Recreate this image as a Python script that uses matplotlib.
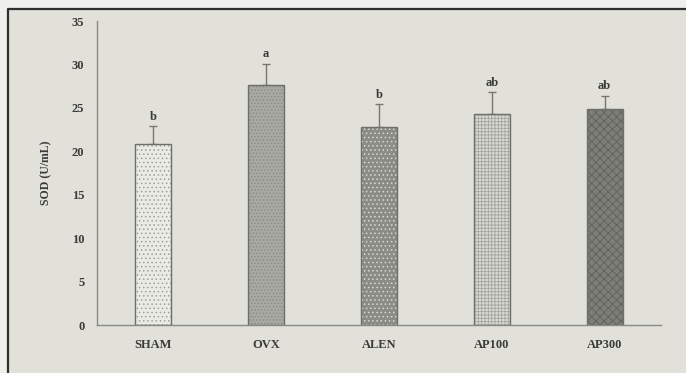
import matplotlib.pyplot as plt
from matplotlib.patches import Rectangle
from matplotlib.lines import Line2D

groups = ['SHAM', 'OVX', 'ALEN', 'AP100', 'AP300']
sod = [20.8, 27.6, 22.8, 24.3, 24.9]
sod_err = [2.1, 2.5, 2.6, 2.5, 1.5]
letters = ['b', 'a', 'b', 'ab', 'ab']

faces = ['#ebebe5', '#a9a9a3', '#8c8c87', '#dadad4', '#7e7e79']
hatch_cols = ['#a0a09a', '#8a8a85', '#d8d8d2', '#a5a59f', '#5f5f5b']
hatches = ['....', '.....', '....', '+++++', 'xxxx']

plt.rcParams['font.family'] = 'Liberation Serif'
plt.rcParams['font.weight'] = 'bold'
plt.rcParams['hatch.linewidth'] = 0.6

fig = plt.figure(figsize=(6.86, 3.73), dpi=100)
fig.patch.set_facecolor('#efefec')
# grey panel with dark frame on top and left only
fx, fy = 8 / 686, (373 - 9) / 373
fig.patches.append(Rectangle((fx, 0), 1 - fx, fy, transform=fig.transFigure,
                             facecolor='#e1e1da', lw=0, zorder=-5))
fig.lines.append(Line2D([fx, fx, 1], [0, fy, fy], transform=fig.transFigure,
                        color='#2f2f2f', lw=1.6, zorder=-4))

ax = fig.add_axes([97 / 686, 48 / 373, 564 / 686, 304 / 373])
ax.set_zorder(2)
ax.set_facecolor('none')

x = range(len(groups))
ax.bar(x, sod, width=0.32, color=faces, edgecolor=hatch_cols, hatch=hatches, lw=0, zorder=2)
ax.bar(x, sod, width=0.32, fill=False, edgecolor='#6e6e6a', lw=1.0, zorder=3)
ax.errorbar(x, sod, yerr=[[0] * 5, sod_err], fmt='none', ecolor='#767672',
            elinewidth=1.0, capsize=3, capthick=1.0, zorder=1)

for i in x:
    ax.text(i, sod[i] + sod_err[i] + 0.4, letters[i], ha='center', va='bottom',
            fontsize=9, color='#3a3a3a', fontweight='bold')

ax.set_xlim(-0.5, 4.5)
ax.set_ylim(0, 35)
ax.set_yticks(range(0, 36, 5))
ax.set_xticks(list(x))
ax.set_xticklabels(groups)
ax.tick_params(length=0, labelsize=9, labelcolor='#3a3a3a')
ax.tick_params(axis='y', pad=9)
ax.tick_params(axis='x', pad=10)
for s in ['top', 'right']:
    ax.spines[s].set_visible(False)
for s in ['left', 'bottom']:
    ax.spines[s].set_color('#8a8a86')
    ax.spines[s].set_linewidth(1.0)
ax.set_ylabel('SOD (U/mL)', fontsize=8.5, color='#3a3a3a', fontweight='bold', labelpad=14)

fig.savefig('out.png', dpi=100, facecolor=fig.get_facecolor())
